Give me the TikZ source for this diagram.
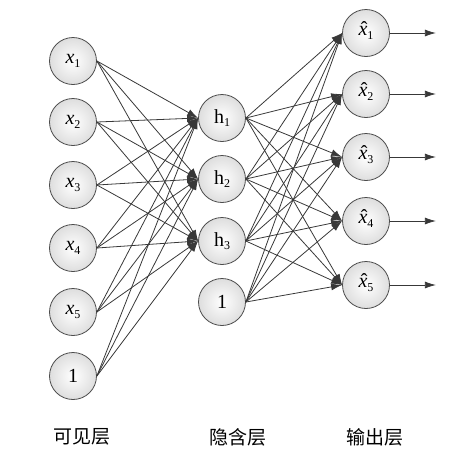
\documentclass[tikz,border=0pt]{standalone}
\usepackage{fontspec}
\setmainfont{Liberation Serif}
\newfontfamily\cjk{Noto Sans CJK SC}
\usetikzlibrary{arrows.meta}
\newcommand{\subnum}[1]{\raisebox{-0.35ex}{\fontsize{12}{12}\selectfont #1}}
\newcommand{\vx}[1]{\textit{x}\subnum{#1}}
\newcommand{\ox}[1]{\ooalign{\textit{x}\cr\hidewidth\kern0.12em\raisebox{0.05ex}{\char"02C6}\hidewidth\cr}\subnum{#1}}
\newcommand{\hx}[1]{h\subnum{#1}}
\begin{document}
\begin{tikzpicture}[x=1pt,y=-1pt,
  neuron/.style={circle,draw=black!70,line width=0.8pt,minimum size=47pt,inner sep=0pt,
     inner color=white,outer color=black!13,font=\fontsize{20}{22}\selectfont},
  conn/.style={draw=black!78,line width=0.8pt,-{Latex[length=11pt,width=7pt]}},
  lbl/.style={font=\cjk\fontsize{19}{21}\selectfont}]
\useasboundingbox (0,0) rectangle (460,459);
\node[neuron] (v1) at (73,61) {\vx{1}};
\node[neuron] (v2) at (73,122) {\vx{2}};
\node[neuron] (v3) at (73,185) {\vx{3}};
\node[neuron] (v4) at (73,248) {\vx{4}};
\node[neuron] (v5) at (73,312) {\vx{5}};
\node[neuron] (v6) at (73,376) {1};
\node[neuron] (h1) at (222,118) {\hx{1}};
\node[neuron] (h2) at (222,179) {\hx{2}};
\node[neuron] (h3) at (222,241) {\hx{3}};
\node[neuron] (h4) at (222,302) {1};
\node[neuron] (o1) at (366,33) {\ox{1}};
\node[neuron] (o2) at (366,94) {\ox{2}};
\node[neuron] (o3) at (366,157) {\ox{3}};
\node[neuron] (o4) at (366,221) {\ox{4}};
\node[neuron] (o5) at (366,285) {\ox{5}};
\foreach \i in {1,...,5}{
  \coordinate (e\i) at ([xshift=46pt]o\i.east);
  \draw[conn] (o\i.east) -- (e\i);
}
\foreach \i in {1,...,6}{
  \foreach \j in {1,2,3}{
    \draw[conn] (v\i.east) -- (h\j.west);
  }
}
\foreach \i in {1,...,4}{
  \foreach \j in {1,...,5}{
    \draw[conn] (h\i.east) -- (o\j.west);
  }
}
\node[lbl] (l1) at (82,437) {可见层};
\node[lbl] (l2) at (238,437) {隐含层};
\node[lbl] (l3) at (375,437) {输出层};
\end{tikzpicture}
\end{document}
